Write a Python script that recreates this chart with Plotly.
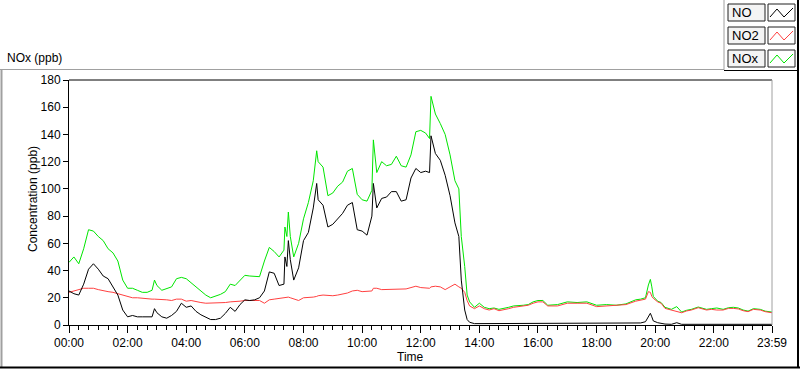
import plotly.graph_objects as go

# ---------------- data ----------------
times = ["00:00","00:10","00:20","00:30","00:40","00:50","01:00","01:10","01:20","01:30",
         "01:40","01:50","02:00","02:10","02:20","02:30","02:40","02:50","02:55","03:00",
         "03:10","03:20","03:30","03:40","03:50","04:00","04:10","04:20","04:30","04:40",
         "04:50","05:00","05:10","05:20","05:30","05:40","05:50","06:00","06:10","06:20",
         "06:30","06:40","06:50","07:00","07:10","07:20","07:22","07:26","07:29","07:33",
         "07:40","07:50","08:00","08:10","08:20","08:27","08:30","08:40","08:50","09:00",
         "09:10","09:20","09:30","09:40","09:50","10:00","10:10","10:20","10:23","10:30",
         "10:40","10:50","11:00","11:10","11:20","11:30","11:40","11:50","12:00","12:10",
         "12:18","12:21","12:30","12:40","12:50","13:00","13:10","13:18","13:23","13:30",
         "13:35","13:40","13:50","14:00","14:10","14:20","14:30","14:40","14:50","15:00",
         "15:10","15:20","15:30","15:40","15:50","16:00","16:10","16:20","16:40","17:00",
         "17:20","17:40","18:00","18:20","18:40","19:00","19:20","19:30","19:40","19:46",
         "19:50","19:53","19:56","20:05","20:12","20:20","20:33","20:44","20:54","21:04",
         "21:14","21:28","21:45","21:55","22:06","22:19","22:30","22:40","22:50","23:00",
         "23:10","23:21","23:35","23:45","23:59"]

no = [25,23,22,30,41,45,41,36,34,28,
      22,11,6,7,6,6,6,6,12,9,
      6,5,7,10,16,13,14,10,7.5,6,
      4,4,5,8.5,13,10,15,18.5,18,18.5,
      20,25,39,38,29,30,50,43,62,48,
      33,42,62,68,86,104,92,88,72,74,
      78,82,88,90,70,69,66,80,104,86,
      93,94,98,98,91,92,108,115,112,113,
      112,139,126,121,110,95,75,65,33,11,
      4,2,1,1,1,1,1,1,1,1,
      1,1,1,1,1,1,1,1,1,1,
      1,1,1,1,1,1,1.5,1.5,2.4,6,
      8.6,6,3,1.7,1,0.7,0.5,1.7,0.5,0.5,
      0.5,0.5,0.5,0.5,0.5,0.7,0.7,0.7,0.7,0.7,
      0.7,0.7,0.5,0.5,0.5]

no2 = [24,25,25.5,27,27,27,26,25,24.5,24,
       23,22,21,20,20,19.5,19,19,19,19,
       18.5,18.5,18,19,19,17.5,18,17,16.5,16,
       16,16,16,16.5,17,17,17.5,18,18,18.5,
       18,16,18.5,19,19.5,20,20,20,20.5,20,
       19,18,20,20,20.5,21,21.5,22,21.5,21.5,
       22,22.5,23.5,25,25.5,24.5,24.5,25,27,27,
       26,26,26.5,26,26,26.5,27.5,28.5,27.5,27.5,
       27,28,28.5,28,26,28,30,28,27,24,
       18,14,12,14,12,11,12,10.5,11,12,
       13,13.5,13.5,14.5,16,17,17,14,14,16,
       16,16,13.5,14,14,15,17.5,18.4,19,24.5,
       24,21,19.6,17,16,12.2,11,9.8,9,10.3,
       11,12.7,11,11.5,11,11,12.2,12.2,11.8,10.5,
       9.8,11.5,11,9.8,9]

nox = [46,50,45,56,70,69,65,62,56,53,
       47,33,27,27,25.5,24,24,25.5,33,29,
       25.5,27,28,34,35,34,31,28,25,22,
       20,21,22.5,24.5,30,29,33,36.5,36,36,
       35.5,47,57,54,50,55,72,65,83,65,
       50,60,78,90,106,128,120,116,95,97,
       102,105,113,115,96,92,91,99,136,112,
       120,117,118,124,117,116,125,142,143,141,
       137,168,155,148,140,125,106,100,65,43,
       22,17,13,16,13,12,12.5,11.5,12,13,
       14,14,14.5,15,17,18,18,14.5,15,17,
       16.5,17,14.5,15,14.5,15.5,18.5,19,20,29.4,
       33.5,28,21,17.5,16.5,13,11.5,13.5,9.5,10.8,
       11.5,13.2,11.5,12,12.5,11.5,12.7,13,12.5,11,
       10.2,12,11.5,10.2,9.5]

tick_labels = ["00:00","02:00","04:00","06:00","08:00","10:00","12:00",
               "14:00","16:00","18:00","20:00","22:00","23:59"]

DAY = "2024-01-01 "
xs = [DAY + t for t in times]
tickvals = [DAY + t for t in tick_labels]

FONT = "Liberation Sans"

# ---------------- layout geometry (pixels) ----------------
W, H = 800, 369
L, R, T, B = 69, 772, 80, 325   # plot area edges in pixels

def px(x):
    return (x - L) / (R - L)

def py(y):
    return (B - y) / (B - T)

fig = go.Figure()
fig.add_trace(go.Scatter(x=xs, y=nox, mode="lines", line=dict(color="#00e600", width=1),
                         name="NOx", showlegend=False))
fig.add_trace(go.Scatter(x=xs, y=no2, mode="lines", line=dict(color="#ff4040", width=1),
                         name="NO2", showlegend=False))
fig.add_trace(go.Scatter(x=xs, y=no, mode="lines", line=dict(color="#000000", width=1),
                         name="NO", showlegend=False))

fig.update_layout(
    width=W, height=H, autosize=False,
    margin=dict(l=L, r=W - R, t=T, b=H - B),
    paper_bgcolor="white", plot_bgcolor="white",
    font=dict(family=FONT, size=12, color="black"),
    xaxis=dict(
        type="date",
        range=[DAY + "00:00", DAY + "23:59"],
        tickmode="array", tickvals=tickvals, ticktext=tick_labels,
        ticks="outside", ticklen=7, tickcolor="black", tickwidth=1,
        showline=True, linecolor="black", linewidth=1,
        showgrid=False, zeroline=False,
        tickfont=dict(family=FONT, size=12, color="black"),
        minor=dict(ticks="outside", ticklen=4, tickcolor="black", tickwidth=1,
                   dtick=20 * 60 * 1000, tick0=DAY + "00:00", showgrid=False),
    ),
    yaxis=dict(
        range=[0, 180], dtick=20, tick0=0,
        ticks="outside", ticklen=5, tickcolor="black",
        showline=True, linecolor="black", linewidth=1,
        showgrid=False, zeroline=False,
        tickfont=dict(family=FONT, size=12, color="black"),
    ),
)

shapes = []
# plot area top (dark) and right (grey) borders
shapes.append(dict(type="line", xref="paper", yref="paper", x0=0, x1=1, y0=1, y1=1,
                   line=dict(color="black", width=1)))
shapes.append(dict(type="line", xref="paper", yref="paper", x0=1, x1=1, y0=0, y1=1,
                   line=dict(color="#a0a0a0", width=1)))
# outer control frame
shapes.append(dict(type="line", xref="paper", yref="paper", x0=px(0), x1=px(724),
                   y0=py(69.5), y1=py(69.5), line=dict(color="#a0a0a0", width=1)))
shapes.append(dict(type="line", xref="paper", yref="paper", x0=px(1.5), x1=px(1.5),
                   y0=py(69.5), y1=py(367), line=dict(color="#a0a0a0", width=2)))
shapes.append(dict(type="line", xref="paper", yref="paper", x0=px(0), x1=px(800),
                   y0=py(367.5), y1=py(367.5), line=dict(color="black", width=2)))
shapes.append(dict(type="line", xref="paper", yref="paper", x0=px(798), x1=px(798),
                   y0=py(0), y1=py(368), line=dict(color="black", width=2)))
# legend frame
shapes.append(dict(type="line", xref="paper", yref="paper", x0=px(724), x1=px(724),
                   y0=py(0), y1=py(70), line=dict(color="#a0a0a0", width=1)))
shapes.append(dict(type="line", xref="paper", yref="paper", x0=px(724), x1=px(798),
                   y0=py(70.5), y1=py(70.5), line=dict(color="black", width=1)))

legend_names = ["NO", "NO2", "NOx"]
legend_colors = ["#000000", "#ff4040", "#00e600"]
annotations = []
for i, (name, col) in enumerate(zip(legend_names, legend_colors)):
    top = 4 + 23 * i
    bot = top + 17
    # label box
    shapes.append(dict(type="rect", xref="paper", yref="paper",
                       x0=px(728), x1=px(765), y0=py(bot), y1=py(top),
                       fillcolor="#f4f4f4", line=dict(color="#202020", width=1)))
    # sample box
    shapes.append(dict(type="rect", xref="paper", yref="paper",
                       x0=px(768), x1=px(795), y0=py(bot), y1=py(top),
                       fillcolor="white", line=dict(color="#202020", width=1)))
    zig = [(770, top + 13), (777, top + 5), (784, top + 13), (793, top + 4)]
    path = "M " + " L ".join(f"{px(a)},{py(b)}" for a, b in zig)
    shapes.append(dict(type="path", xref="paper", yref="paper", path=path,
                       line=dict(color=col, width=1)))
    annotations.append(dict(xref="paper", yref="paper", x=px(730), y=py((top + bot) / 2),
                            text=name, showarrow=False, xanchor="left", yanchor="middle",
                            font=dict(family=FONT, size=13, color="black")))

annotations.append(dict(xref="paper", yref="paper", x=px(5), y=py(58), text="NOx (ppb)",
                        showarrow=False, xanchor="left", yanchor="middle",
                        font=dict(family=FONT, size=12, color="black")))
annotations.append(dict(xref="paper", yref="paper", x=px(33), y=py(199),
                        text="Concentration (ppb)", textangle=-90, showarrow=False,
                        xanchor="center", yanchor="middle",
                        font=dict(family=FONT, size=12, color="black")))
annotations.append(dict(xref="paper", yref="paper", x=px(410), y=py(357), text="Time",
                        showarrow=False, xanchor="center", yanchor="middle",
                        font=dict(family=FONT, size=12, color="black")))

fig.update_layout(shapes=shapes, annotations=annotations)
fig.write_html("out.html", config={"displayModeBar": False},
               post_script="document.body.style.margin='0';document.body.style.overflow='hidden';")
